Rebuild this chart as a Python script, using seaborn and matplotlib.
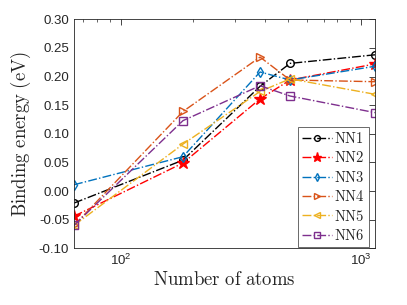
import matplotlib
matplotlib.use("Agg")
import matplotlib.pyplot as plt
import seaborn as sns
from matplotlib.ticker import FixedLocator, FuncFormatter, LogLocator, NullFormatter
from matplotlib.font_manager import FontProperties

# Data
atoms = [64, 182, 381, 508, 1147]
nn1 = [-0.021, 0.054, 0.183, 0.223, 0.238]
nn2 = [-0.044, 0.049, 0.161, 0.194, 0.222]
nn3 = [0.011, 0.060, 0.208, 0.194, 0.218]
nn4 = [-0.060, 0.139, 0.234, 0.194, 0.191]
nn5 = [-0.060, 0.082, 0.174, 0.196, 0.169]
nn6 = [-0.060, 0.123, 0.184, 0.166, 0.137]
names = ["NN1", "NN2", "NN3", "NN4", "NN5", "NN6"]

series = [nn1, nn2, nn3, nn4, nn5, nn6]
colors = ["black", "red", (0, 0.447, 0.741), (0.85, 0.325, 0.098),
          (0.929, 0.694, 0.125), (0.494, 0.184, 0.556)]
markers = ["o", "*", "d", ">", "<", "s"]

sns.set_style("white")
plt.rcParams["font.family"] = ["Liberation Sans", "DejaVu Sans"]
plt.rcParams["axes.unicode_minus"] = False

fig = plt.figure(figsize=(4.07, 3.05), dpi=100)
ax = fig.add_axes([0.1818, 0.1859, 0.7396, 0.7508])

for vals, name, c, m in zip(series, names, colors, markers):
    filled = m == "*"
    sns.lineplot(x=atoms, y=vals, ax=ax, color=c, marker=m, linestyle="-.",
                 linewidth=1.0, markersize=9 if filled else 5.5,
                 markerfacecolor=c if filled else "none",
                 markeredgecolor=c, markeredgewidth=1.0,
                 label=r"$\mathrm{%s}$" % name)

ax.set_xscale("log")
ax.set_xlim(atoms[0], atoms[-1])
ax.set_ylim(-0.10, 0.30)
ax.yaxis.set_major_locator(FixedLocator([-0.10 + 0.05 * i for i in range(9)]))
ax.yaxis.set_major_formatter(FuncFormatter(lambda v, p: "%.2f" % v))
ax.xaxis.set_major_locator(LogLocator(base=10))
ax.xaxis.set_minor_locator(LogLocator(base=10, subs=range(2, 10)))
ax.xaxis.set_minor_formatter(NullFormatter())

ax.tick_params(which="both", direction="in", top=True, right=True,
               colors=(0.15, 0.15, 0.15), labelsize=9.5)
ax.tick_params(which="major", length=4, width=0.6)
ax.tick_params(which="minor", length=2, width=0.5)
for s in ax.spines.values():
    s.set_color((0.15, 0.15, 0.15))
    s.set_linewidth(0.6)

ax.set_xlabel(r"$\mathrm{Number\ of\ atoms}$", fontsize=13.5,
              math_fontfamily="cm", color=(0.15, 0.15, 0.15), labelpad=2)
ax.set_ylabel(r"$\mathrm{Binding\ energy\ (eV)}$", fontsize=13.5,
              math_fontfamily="cm", color=(0.15, 0.15, 0.15), labelpad=4)

leg = ax.legend(loc="lower right", bbox_to_anchor=(0.9066, 0.1892),
                bbox_transform=fig.transFigure,
                prop=FontProperties(size=10.5, math_fontfamily="cm"),
                frameon=True, fancybox=False, borderaxespad=0, handlelength=2.0,
                handletextpad=0.15, labelspacing=0.3, borderpad=0.3,
                markerscale=0.75)
leg.get_frame().set_edgecolor((0.15, 0.15, 0.15))
leg.get_frame().set_linewidth(0.6)

fig.savefig("out.png", dpi=100)
